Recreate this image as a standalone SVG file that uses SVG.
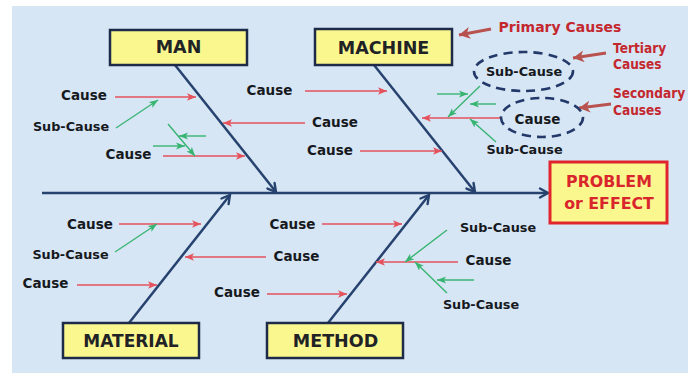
<svg xmlns="http://www.w3.org/2000/svg" width="688" height="377" viewBox="0 0 688 377">
  <defs>
    <marker id="ahBone" markerUnits="userSpaceOnUse" markerWidth="14" markerHeight="14" refX="10" refY="6" orient="auto">
      <path d="M2,1.5 L10,6 L2,10.5" fill="none" stroke="#26426e" stroke-width="2.4" stroke-linecap="round"/>
    </marker>
    <marker id="ahRed" markerUnits="userSpaceOnUse" markerWidth="12" markerHeight="10" refX="9" refY="4" orient="auto">
      <path d="M0,0.3 L9,4 L0,7.7 L2.2,4 z" fill="#e4525c"/>
    </marker>
    <marker id="ahGreen" markerUnits="userSpaceOnUse" markerWidth="12" markerHeight="10" refX="9" refY="4" orient="auto">
      <path d="M0,0.5 L9,4 L0,7.5 L2.2,4 z" fill="#38b471"/>
    </marker>
    <marker id="ahNote" markerUnits="userSpaceOnUse" markerWidth="14" markerHeight="14" refX="11" refY="6" orient="auto">
      <path d="M0,0 L11,6 L0,12 L3,6 z" fill="#b8524f"/>
    </marker>
  </defs>
  <style>
    .bg { fill: #d7e6f5; }
    .box rect { fill: #fbf78f; stroke: #1d2b49; stroke-width: 2.5; }
    .box text { font-family: "DejaVu Sans", Verdana, sans-serif; font-weight: bold; font-size: 17.5px; fill: #1f2326; text-anchor: middle; }
    #node-effect rect { stroke: #e0262c; stroke-width: 3; }
    #node-effect text { fill: #d9262c; font-size: 15.8px; }
    .lbl { font-family: "DejaVu Sans", Verdana, sans-serif; font-weight: bold; font-size: 13.5px; fill: #16191d; text-anchor: middle; }
    .lbl.sub { font-size: 12.8px; }
    .note { font-family: "DejaVu Sans", Verdana, sans-serif; font-weight: bold; font-size: 14px; fill: #c4282f; }
    .note.tall { font-size: 12.2px; }
    .bone { stroke: #26426e; stroke-width: 2.5; fill: none; marker-end: url(#ahBone); }
    .cause { stroke: #e4525c; stroke-width: 1.7; fill: none; marker-end: url(#ahRed); }
    .subc { stroke: #38b471; stroke-width: 1.4; fill: none; marker-end: url(#ahGreen); }
    .pointer { stroke: #b8524f; stroke-width: 3; fill: none; marker-end: url(#ahNote); }
    .ring { fill: none; stroke: #22396a; stroke-width: 2.6; stroke-dasharray: 9 6; }
  </style>

  <!-- backdrop -->
  <rect x="0" y="0" width="688" height="377" fill="#ffffff"/>
  <rect class="bg" x="12" y="6" width="676" height="367"/>

  <!-- spine, bones and cause arrows -->
  <g id="connectors">
    <line class="bone" x1="42" y1="193" x2="548" y2="193"/>
    <line class="bone" x1="175" y1="65" x2="276" y2="192"/>
    <line class="bone" x1="374" y1="65" x2="475" y2="192"/>
    <line class="bone" x1="129" y1="323" x2="230" y2="195"/>
    <line class="bone" x1="328" y1="323" x2="429" y2="195"/>

    <!-- MAN branch -->
    <line class="cause" x1="115" y1="97" x2="196" y2="97"/>
    <line class="subc" x1="116" y1="128" x2="158" y2="100"/>
    <line class="cause" x1="305" y1="123" x2="223" y2="123"/>
    <line class="cause" x1="163" y1="156" x2="245" y2="156"/>
    <line class="subc" x1="168" y1="124" x2="195" y2="156"/>
    <line class="subc" x1="206" y1="136" x2="179" y2="136"/>
    <line class="subc" x1="153" y1="146" x2="185" y2="146"/>

    <!-- MACHINE branch -->
    <line class="cause" x1="305" y1="91" x2="387" y2="91"/>
    <line class="cause" x1="360" y1="151" x2="442" y2="151"/>
    <line class="cause" x1="500" y1="118" x2="422" y2="118"/>
    <line class="subc" x1="480" y1="86" x2="448" y2="117"/>
    <line class="subc" x1="437" y1="94" x2="468" y2="94"/>
    <line class="subc" x1="496" y1="104" x2="470" y2="104"/>
    <line class="subc" x1="496" y1="142" x2="470" y2="119"/>

    <!-- MATERIAL branch -->
    <line class="cause" x1="119" y1="224" x2="201" y2="224"/>
    <line class="subc" x1="115" y1="252" x2="157" y2="224"/>
    <line class="cause" x1="266" y1="257" x2="185" y2="257"/>
    <line class="cause" x1="77" y1="285" x2="157" y2="285"/>

    <!-- METHOD branch -->
    <line class="cause" x1="322" y1="224" x2="402" y2="224"/>
    <line class="cause" x1="267" y1="294" x2="347" y2="294"/>
    <line class="cause" x1="458" y1="262" x2="376" y2="262"/>
    <line class="subc" x1="447" y1="230" x2="405" y2="262"/>
    <line class="subc" x1="447" y1="293" x2="415" y2="262"/>
    <line class="subc" x1="474" y1="280" x2="437" y2="280"/>

    <!-- legend pointers -->
    <line class="pointer" x1="491" y1="29" x2="459" y2="35"/>
    <line class="pointer" x1="606" y1="53" x2="573" y2="58"/>
    <line class="pointer" x1="611" y1="104" x2="579" y2="108"/>
  </g>

  <!-- category boxes -->
  <g id="node-man" class="box">
    <rect x="110" y="30" width="137" height="35"/>
    <text x="178.5" y="53">MAN</text>
  </g>
  <g id="node-machine" class="box">
    <rect x="315" y="29" width="137" height="36"/>
    <text x="383.5" y="54">MACHINE</text>
  </g>
  <g id="node-material" class="box">
    <rect x="63" y="323" width="136" height="35"/>
    <text x="131" y="347" style="font-size:17px">MATERIAL</text>
  </g>
  <g id="node-method" class="box">
    <rect x="267" y="323" width="136" height="35"/>
    <text x="335.5" y="347">METHOD</text>
  </g>
  <g id="node-effect" class="box">
    <rect x="550" y="162" width="117" height="61"/>
    <text x="609" y="187">PROBLEM</text>
    <text x="609" y="209">or EFFECT</text>
  </g>

  <!-- cause labels -->
  <g id="labels-man">
    <text class="lbl" x="84" y="100">Cause</text>
    <text class="lbl sub" x="71" y="131">Sub-Cause</text>
    <text class="lbl" x="335" y="127">Cause</text>
    <text class="lbl" x="128.5" y="159">Cause</text>
  </g>
  <g id="labels-machine">
    <text class="lbl" x="269.5" y="95">Cause</text>
    <text class="lbl" x="330" y="155">Cause</text>
    <ellipse class="ring" cx="523.5" cy="71.5" rx="49.5" ry="19.5"/>
    <text class="lbl sub" x="524" y="76">Sub-Cause</text>
    <ellipse class="ring" cx="542" cy="117.5" rx="41" ry="19.5"/>
    <text class="lbl" x="537.5" y="124">Cause</text>
    <text class="lbl sub" x="524.5" y="154">Sub-Cause</text>
  </g>
  <g id="labels-material">
    <text class="lbl" x="90" y="229">Cause</text>
    <text class="lbl sub" x="70.5" y="259">Sub-Cause</text>
    <text class="lbl" x="296.5" y="261">Cause</text>
    <text class="lbl" x="45.5" y="288">Cause</text>
  </g>
  <g id="labels-method">
    <text class="lbl" x="292.5" y="229">Cause</text>
    <text class="lbl" x="237" y="297">Cause</text>
    <text class="lbl" x="488.5" y="265">Cause</text>
    <text class="lbl sub" x="498" y="232">Sub-Cause</text>
    <text class="lbl sub" x="481" y="309">Sub-Cause</text>
  </g>

  <!-- legend: the side notes are narrow letters stretched vertically -->
  <g id="legend">
    <text class="note" x="560" y="32" text-anchor="middle">Primary Causes</text>
    <text class="note tall" transform="translate(613,53) scale(1,1.15)">Tertiary</text>
    <text class="note tall" transform="translate(613,69) scale(1,1.15)">Causes</text>
    <text class="note tall" transform="translate(613,98) scale(1,1.15)">Secondary</text>
    <text class="note tall" transform="translate(613,115) scale(1,1.15)">Causes</text>
  </g>
</svg>
